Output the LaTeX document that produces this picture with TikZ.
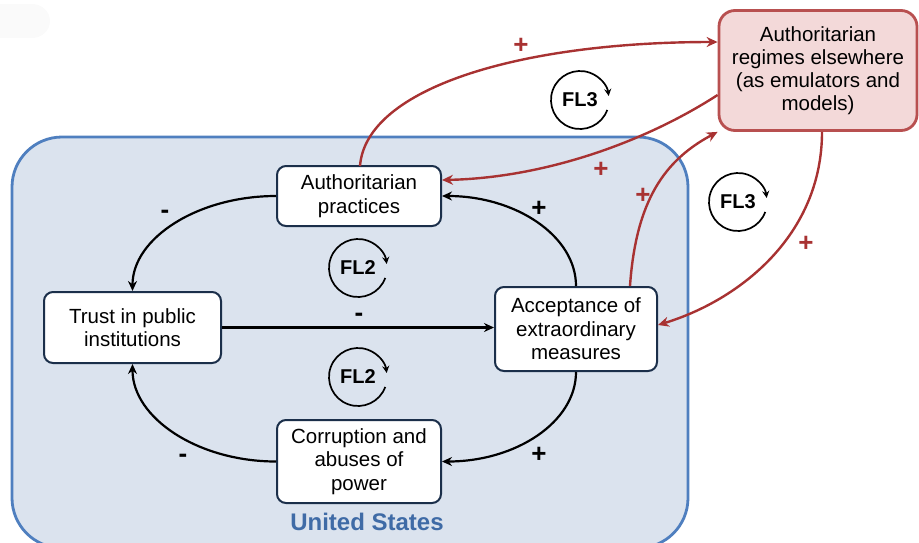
\documentclass[tikz,border=0pt]{standalone}
\usepackage{fontspec}
\setmainfont{Liberation Sans}
\usetikzlibrary{arrows.meta,calc}
\definecolor{usfill}{HTML}{DBE3EE}
\definecolor{usedge}{HTML}{4F7FBF}
\definecolor{ustext}{HTML}{3F6BA6}
\definecolor{boxedge}{HTML}{1B2F4A}
\definecolor{redfill}{HTML}{F3D9D9}
\definecolor{rededge}{HTML}{B85050}
\definecolor{redarrow}{HTML}{A83232}
\tikzset{
  varbox/.style={draw=boxedge, line width=2pt, fill=white, rounded corners=9pt,
    align=center, font=\fontsize{20.5}{23.5}\selectfont, inner sep=0pt},
  blk/.style={draw=black, line width=2.2pt, -{Stealth[length=10pt,width=9pt]}},
  red/.style={draw=redarrow, line width=2.4pt, -{Stealth[length=11pt,width=10pt]}},
  sign/.style={font=\bfseries\fontsize{26}{26}\selectfont},
  rsign/.style={font=\bfseries\fontsize{26}{26}\selectfont, text=redarrow},
  looplbl/.style={font=\bfseries\fontsize{20}{20}\selectfont}
}
\newcommand{\loopglyph}[3]{%
  \node[looplbl] (#1) at #2 {#3};
  \draw[line width=1.7pt, -{Stealth[length=7pt,width=7pt]}]
    ($#2+(20:29)$) arc[start angle=20, end angle=352, radius=29];
}
\begin{document}
\begin{tikzpicture}[x=1pt, y=-1pt]
\useasboundingbox (0,0) rectangle (919,542);
% faint top-left shape
\fill[gray!4] (-20,4) rectangle (32,38);
\fill[gray!4] (32,21) ellipse (18 and 17);
% United States region
\draw[usedge, line width=2.8pt, fill=usfill, rounded corners=50pt]
  (12,137) rectangle (688,548);
\node[font=\bfseries\fontsize{24}{24}\selectfont, text=ustext] (us) at (367,522) {United States};
% red box
\node[draw=rededge, line width=2.8pt, fill=redfill, rounded corners=16pt,
  minimum width=198pt, minimum height=120pt, align=center,
  font=\fontsize{20.5}{23}\selectfont] (ar) at (818,70.5)
  {Authoritarian\\regimes elsewhere\\(as emulators and\\models)};
% variable boxes
\node[varbox, minimum width=164pt, minimum height=60pt] (pr) at (359,196) {Authoritarian\\practices};
\node[varbox, minimum width=177pt, minimum height=71pt] (tr) at (132.5,327.5) {Trust in public\\institutions};
\node[varbox, minimum width=162pt, minimum height=84pt] (ac) at (576,329) {Acceptance of\\extraordinary\\measures};
\node[varbox, minimum width=164pt, minimum height=83pt] (co) at (359,461.5) {Corruption and\\abuses of\\power};
% loops
\loopglyph{l1}{(580,100)}{FL3}
\loopglyph{l2}{(738,202)}{FL3}
\loopglyph{l3}{(358,268)}{FL2}
\loopglyph{l4}{(358,377)}{FL2}
% black links
\draw[blk] (pr.west) .. controls +(-78,0) and +(0,-53) .. (tr.north);
\draw[blk] (ac.north) .. controls +(0,-50) and +(74,0) .. (pr.east);
\draw[blk] (tr.east) -- (tr.east -| ac.west);
\draw[blk] (ac.south) .. controls +(0,50) and +(74,0) .. (co.east);
\draw[blk] (co.west) .. controls +(-78,0) and +(0,54) .. (tr.south);
\node[sign] (s1) at (165,214) {-};
\node[sign] (s2) at (539,209) {+};
\node[sign] (s3) at (359,317) {-};
\node[sign] (s4) at (539,455) {+};
\node[sign] (s5) at (183,458) {-};
% red links
\coordinate (prtop) at (360,166);
\coordinate (arw) at (ar.west |- 0,42);
\draw[red] (prtop) .. controls (366,88) and (520,42) .. (arw);
\coordinate (arw2) at (ar.west |- 0,95);
\coordinate (pre) at ($(pr.east)+(0,-16)$);
\draw[red] (arw2) .. controls (640,145) and (540,178) .. (pre);
\coordinate (act) at ($(ac.north)+(54,0)$);
\draw[red] (act) .. controls (636,200) and (665,160) .. (ar.south west);
\coordinate (arb) at (ar.south -| 822,0);
\coordinate (ace) at ($(ac.east)+(0,-4)$);
\draw[red] (arb) .. controls (822,235) and (740,300) .. (ace);
\node[rsign] (r1) at (521,46) {+};
\node[rsign] (r2) at (601,170) {+};
\node[rsign] (r3) at (643,196) {+};
\node[rsign] (r4) at (806,244) {+};
\end{tikzpicture}
\end{document}
